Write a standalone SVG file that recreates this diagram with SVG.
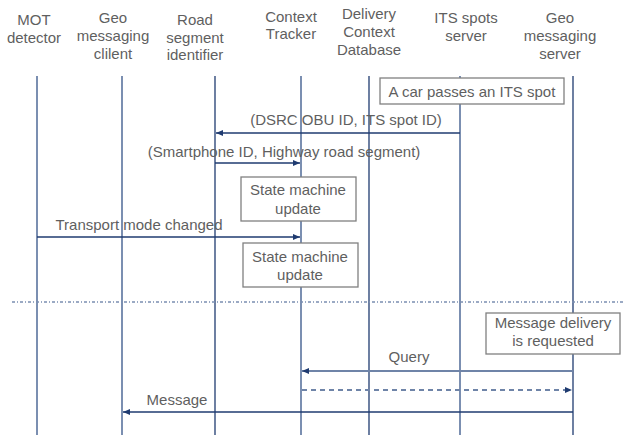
<svg xmlns="http://www.w3.org/2000/svg" width="624" height="435" viewBox="0 0 624 435">
<style>
text{font-family:"Liberation Sans",Arial,sans-serif;font-size:15px;fill:#5f5f5f;text-anchor:middle}
.ll{stroke:#7b8fb1;stroke-width:2;fill:none}
.ld{stroke:#1f3b70;stroke-width:1.3;fill:none}
.box{fill:#fff;stroke:#808080;stroke-width:1.3}
.m{stroke:#1f3b70;stroke-width:1.3;fill:none}
.mq{stroke:#6f84a8;stroke-width:2;fill:none}
</style>
<defs>
<marker id="ah" viewBox="0 0 7 7" refX="7" refY="3.5" markerWidth="7" markerHeight="7" markerUnits="userSpaceOnUse" orient="auto">
<path d="M0,0.5 L7,3.5 L0,6.5 z" fill="#1f3b70"/>
</marker>
</defs>
<rect width="624" height="435" fill="#fff"/>
<g id="lifelines">
<g id="mot"><text x="34" y="25">MOT</text><text x="34" y="43">detector</text><line class="ll" x1="37" y1="76" x2="37" y2="435"/></g>
<g id="geo-client"><text x="113" y="23">Geo</text><text x="113" y="41">messaging</text><text x="113" y="59">clilent</text><line class="ll" x1="122" y1="76" x2="122" y2="435"/></g>
<g id="road"><text x="195" y="25">Road</text><text x="195" y="43">segment</text><text x="195" y="60">identifier</text><line class="ld" x1="215" y1="76" x2="215" y2="435"/></g>
<g id="context"><text x="291" y="22">Context</text><text x="291" y="39">Tracker</text><line class="ll" x1="301" y1="76" x2="301" y2="435"/></g>
<g id="delivery"><text x="369" y="19">Delivery</text><text x="369" y="37">Context</text><text x="369" y="55">Database</text><line class="ld" x1="369" y1="76" x2="369" y2="435"/></g>
<g id="its"><text x="466" y="23">ITS spots</text><text x="466" y="41">server</text><line class="ll" x1="460" y1="76" x2="460" y2="435"/></g>
<g id="geo-server"><text x="560" y="23">Geo</text><text x="560" y="41">messaging</text><text x="560" y="59">server</text><line class="ld" x1="573" y1="76" x2="573" y2="435"/></g>
</g>
<g id="separator"><line x1="12" y1="302" x2="624" y2="302" stroke="#7b8fb1" stroke-width="1.3" stroke-dasharray="3,2,1,2"/></g>
<g id="car-box"><rect class="box" x="380" y="78" width="184" height="26"/><text x="472" y="97">A car passes an ITS spot</text></g>
<g id="sm1"><rect class="box" x="241" y="177" width="115" height="44"/><text x="298" y="195">State machine</text><text x="298" y="214">update</text></g>
<g id="sm2"><rect class="box" x="243" y="243" width="115" height="44"/><text x="300" y="262">State machine</text><text x="300" y="280">update</text></g>
<g id="mdr"><rect class="box" x="486" y="313" width="134" height="41"/><text x="553" y="328">Message delivery</text><text x="553" y="346">is requested</text></g>
<g id="connectors">
<line class="m" x1="460" y1="133" x2="216" y2="133" marker-end="url(#ah)"/>
<text x="346" y="125">(DSRC OBU ID, ITS spot ID)</text>
<line class="m" x1="215" y1="163" x2="300" y2="163" marker-end="url(#ah)"/>
<text x="284" y="157">(Smartphone ID, Highway road segment)</text>
<line class="m" x1="37" y1="237" x2="300" y2="237" marker-end="url(#ah)"/>
<text x="139" y="230">Transport mode changed</text>
<line class="mq" x1="573" y1="371" x2="302" y2="371" marker-end="url(#ah)"/>
<text x="409" y="362">Query</text>
<line class="mq" x1="302" y1="390" x2="572" y2="390" stroke-dasharray="5,4" marker-end="url(#ah)"/>
<line class="m" x1="573" y1="412" x2="123" y2="412" marker-end="url(#ah)"/>
<text x="177" y="405">Message</text>
</g>
</svg>
